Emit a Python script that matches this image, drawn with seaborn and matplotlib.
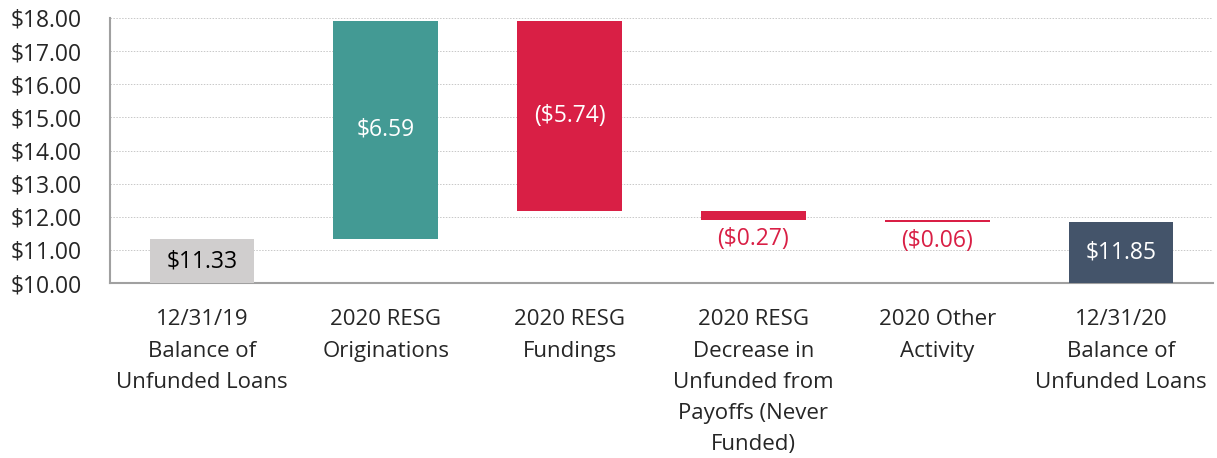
import numpy as np
import pandas as pd
import matplotlib
matplotlib.use("Agg")
import matplotlib.pyplot as plt
import seaborn as sns
from matplotlib.ticker import FuncFormatter, FixedLocator

categories = [
    "12/31/19\nBalance of\nUnfunded Loans",
    "2020 RESG\nOriginations",
    "2020 RESG\nFundings",
    "2020 RESG\nDecrease in\nUnfunded from\nPayoffs (Never\nFunded)",
    "2020 Other\nActivity",
    "12/31/20\nBalance of\nUnfunded Loans",
]
changes = [11.33, 6.59, -5.74, -0.27, -0.06, 11.85]
is_total = [True, False, False, False, False, True]
labels = ["$11.33", "$6.59", "($5.74)", "($0.27)", "($0.06)", "$11.85"]
colors = ["#D0CECE", "#439A94", "#D91F45", "#D91F45", "#D91F45", "#44546A"]
label_colors = ["black", "white", "white", "#D91F45", "#D91F45", "white"]
label_inside = [True, True, True, False, False, True]


def waterfall_frame():
    bottoms, heights = [], []
    running = 0.0
    for val, total in zip(changes, is_total):
        if total:
            bottoms.append(0.0)
            heights.append(val)
            running = val
        elif val >= 0:
            bottoms.append(running)
            heights.append(val)
            running += val
        else:
            bottoms.append(running + val)
            heights.append(-val)
            running += val
    return pd.DataFrame({"Category": categories, "Height": heights, "Bottom": bottoms})


def main():
    df = waterfall_frame()

    sns.set_style("white")
    plt.rcParams["font.family"] = ["Open Sans", "DejaVu Sans"]

    fig = plt.figure(figsize=(12.17, 4.58), dpi=100)
    ax = fig.add_axes([0.0904, 0.382, 0.9063, 0.5787])

    sns.barplot(data=df, x="Category", y="Height", bottom=df["Bottom"].values,
                color="#D0CECE", saturation=1, errorbar=None, width=0.57,
                ax=ax, zorder=3, linewidth=0)
    for patch, c in zip(ax.patches, colors):
        patch.set_facecolor(c)

    ax.set_ylim(10, 18)
    ax.set_xlim(-0.5, len(categories) - 0.5)
    ax.yaxis.set_major_locator(FixedLocator(np.arange(10, 19, 1)))
    ax.yaxis.set_major_formatter(FuncFormatter(lambda v, p: f"${v:.2f}"))
    ax.grid(axis="y", color="#C8C8C8", linestyle=(0, (1.5, 1.5)), linewidth=0.7, zorder=0)
    ax.set_axisbelow(True)

    ax.set_xlabel("")
    ax.set_ylabel("")
    ax.set_xticks(range(len(categories)))
    ax.set_xticklabels(categories, fontsize=16, linespacing=1.63)
    ax.set_xticks(np.arange(-0.5, len(categories), 1), minor=True)
    ax.tick_params(axis="x", which="major", length=0, pad=19)
    ax.tick_params(axis="x", which="minor", length=7, width=1.5, color="#A0A0A0", direction="out")
    ax.tick_params(axis="y", length=7, width=1.5, color="#A0A0A0", direction="out", labelsize=16.5, pad=13)

    for side in ["top", "right"]:
        ax.spines[side].set_visible(False)
    for side in ["left", "bottom"]:
        ax.spines[side].set_color("#A0A0A0")
        ax.spines[side].set_linewidth(1.5)

    for i, row in df.iterrows():
        top = row["Bottom"] + row["Height"]
        if label_inside[i]:
            y = (max(row["Bottom"], 10) + top) / 2
            va = "center"
        else:
            y = row["Bottom"] - 0.22
            va = "top"
        ax.text(i, y, labels[i], ha="center", va=va, fontsize=16.5,
                color=label_colors[i], zorder=4)

    fig.savefig("out.png", dpi=100)


if __name__ == "__main__":
    main()
